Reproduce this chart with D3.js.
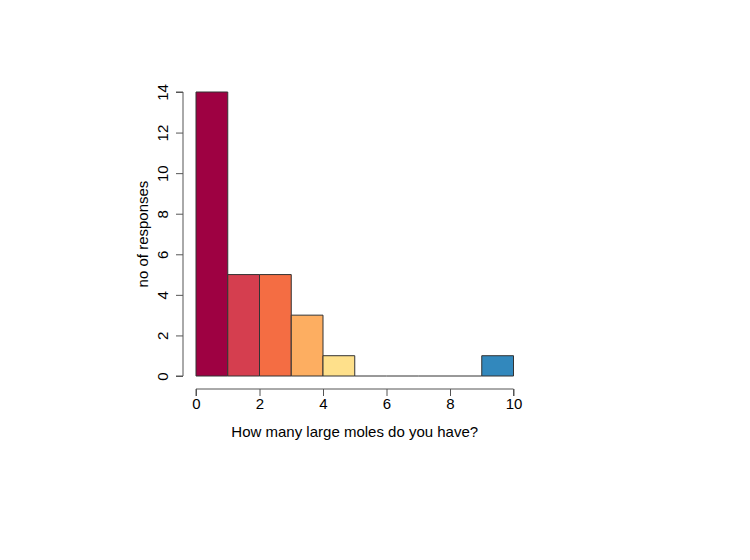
<!DOCTYPE html>
<html><head><meta charset="utf-8">
<script src="https://cdn.jsdelivr.net/npm/d3@7"></script>
<style>body{margin:0;background:#fff}svg{display:block}text{font-family:"Liberation Sans",Arial,sans-serif;fill:#000}</style>
</head><body>
<svg id="c" width="750" height="560"></svg>
<script>
const binStarts = [0,1,2,3,4,5,6,7,8,9];
const counts = [14,5,5,3,1,0,0,0,0,1];
const colors = ["#9E0142","#D53E4F","#F46D43","#FDAE61","#FEE08B","#FFFFBF","#E6F598","#ABDDA4","#66C2A5","#3288BD"];
const xTicks = [0,2,4,6,8,10];
const yTicks = [0,2,4,6,8,10,12,14];
const xLabel = "How many large moles do you have?";
const yLabel = "no of responses";

const svg = d3.select("#c");
const x = d3.scaleLinear().domain([0,10]).range([196,513.5]);
const y = d3.scaleLinear().domain([0,14]).range([376,92]);

svg.append("g").selectAll("path").data(binStarts).join("path")
  .attr("d", (d,i)=>{
    const x0=x(d), x1=x(d+1), y0=y(0), y1=y(counts[i]);
    return counts[i]>0 ? `M${x0},${y0}V${y1}H${x1}V${y0}Z` : `M${x0},${y0}H${x1}`;
  })
  .attr("fill", (d,i)=>counts[i]>0?colors[i]:"none").attr("stroke","#333").attr("stroke-width",1);

const xa = svg.append("g").attr("transform","translate(0,389)")
  .call(d3.axisBottom(x).tickValues(xTicks).tickSize(7).tickPadding(4).tickFormat(d3.format("d")));
const ya = svg.append("g").attr("transform","translate(183,0)")
  .call(d3.axisLeft(y).tickValues(yTicks).tickSize(7).tickPadding(4).tickFormat(d3.format("d")));
[xa,ya].forEach(a=>{
  a.selectAll("path,line").attr("stroke","#555");
  a.selectAll("text").attr("font-size",15).attr("font-family","Liberation Sans, Arial, sans-serif");
});
ya.selectAll(".tick text").attr("text-anchor","middle").attr("x",null)
  .attr("transform","translate(-20,0) rotate(-90)").attr("dy","0.35em");
xa.selectAll(".tick text").attr("dy","0.71em").attr("y",9);
xa.select(".domain").attr("d", `M${x(0)},7V0H${x(10)}V7`);
ya.select(".domain").attr("d", `M-7,${y(0)}H0V${y(14)}H-7`);

svg.append("text").attr("x",(x(0)+x(10))/2).attr("y",437).attr("text-anchor","middle")
  .attr("font-size",15).text(xLabel);
svg.append("text").attr("transform",`translate(148,${(y(0)+y(14))/2}) rotate(-90)`)
  .attr("text-anchor","middle").attr("font-size",15).text(yLabel);
</script>
</body></html>
